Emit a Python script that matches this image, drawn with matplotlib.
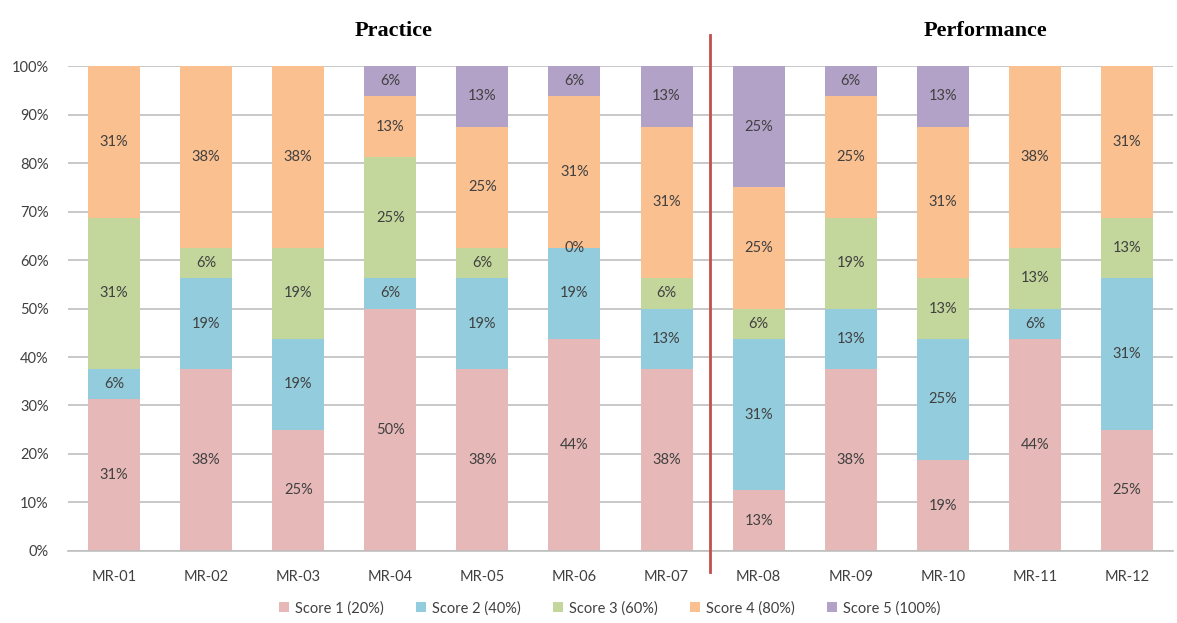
import math
import numpy as np
import matplotlib
matplotlib.use("Agg")
import matplotlib.pyplot as plt

categories = ["MR-01", "MR-02", "MR-03", "MR-04", "MR-05", "MR-06",
              "MR-07", "MR-08", "MR-09", "MR-10", "MR-11", "MR-12"]
series_names = ["Score 1 (20%)", "Score 2 (40%)", "Score 3 (60%)",
                "Score 4 (80%)", "Score 5 (100%)"]
# percentages (None = no value / no label)
score1 = [31.25, 37.5, 25.0, 50.0, 37.5, 43.75, 37.5, 12.5, 37.5, 18.75, 43.75, 25.0]
score2 = [6.25, 18.75, 18.75, 6.25, 18.75, 18.75, 12.5, 31.25, 12.5, 25.0, 6.25, 31.25]
score3 = [31.25, 6.25, 18.75, 25.0, 6.25, 0.0, 6.25, 6.25, 18.75, 12.5, 12.5, 12.5]
score4 = [31.25, 37.5, 37.5, 12.5, 25.0, 31.25, 31.25, 25.0, 25.0, 31.25, 37.5, 31.25]
score5 = [None, None, None, 6.25, 12.5, 6.25, 12.5, 25.0, 6.25, 12.5, None, None]
section_titles = ["Practice", "Performance"]

colors = ["#E6B9B8", "#93CDDD", "#C3D69B", "#FAC090", "#B3A2C7"]
text_color = "#404040"
font = ["Lato", "DejaVu Sans"]
fs = 10.5

fig = plt.figure(figsize=(11.77, 6.23), dpi=100)
ax = fig.add_axes([0.0578, 0.1156, 0.9388, 0.7784])

x = np.arange(len(categories))
width = 0.565
bottom = np.zeros(len(categories))
handles = []
for vals, name, col in zip([score1, score2, score3, score4, score5], series_names, colors):
    v = np.array([0.0 if a is None else a for a in vals])
    bars = ax.bar(x, v, width, bottom=bottom, color=col, label=name, zorder=2)
    handles.append(bars)
    for i, a in enumerate(vals):
        if a is None:
            continue
        ax.text(x[i], bottom[i] + a / 2, f"{int(math.floor(a + 0.5))}%",
                ha="center", va="center", fontsize=fs, color=text_color,
                family=font, zorder=3)
    bottom = bottom + v

ax.set_xlim(-0.5, len(categories) - 0.5)
ax.set_ylim(0, 100)
ax.set_yticks(np.arange(0, 101, 10))
ax.set_yticklabels([f"{t}%" for t in range(0, 101, 10)], family=font,
                   fontsize=fs, color=text_color)
ax.set_xticks(x)
ax.set_xticklabels(categories, family=font, fontsize=fs, color=text_color)
ax.tick_params(axis="both", length=0)
ax.tick_params(axis="x", pad=14)
ax.tick_params(axis="y", pad=14)
ax.yaxis.grid(True, color="#BFBFBF", linewidth=1.2, zorder=0)
ax.set_axisbelow(True)
for s in ["left", "right", "top"]:
    ax.spines[s].set_visible(False)
ax.spines["bottom"].set_color("#BFBFBF")
ax.spines["bottom"].set_linewidth(1.2)

# divider between practice and performance
ax.plot([6.47, 6.47], [-4.3, 106.4], color="#C0504D", linewidth=2,
        clip_on=False, zorder=4)

fig.text(0.334, 0.951, section_titles[0], ha="center", va="center",
         family="Liberation Serif", fontweight="bold", fontsize=16)
fig.text(0.837, 0.951, section_titles[1], ha="center", va="center",
         family="Liberation Serif", fontweight="bold", fontsize=16)

leg = fig.legend(handles=handles, labels=series_names, loc="center",
                 bbox_to_anchor=(0.518, 0.024), ncol=5, frameon=False,
                 prop={"family": font, "size": fs}, handlelength=0.7,
                 handleheight=0.7, handletextpad=0.4, columnspacing=2.2)
for t in leg.get_texts():
    t.set_color(text_color)

fig.savefig("out.png", dpi=100)
